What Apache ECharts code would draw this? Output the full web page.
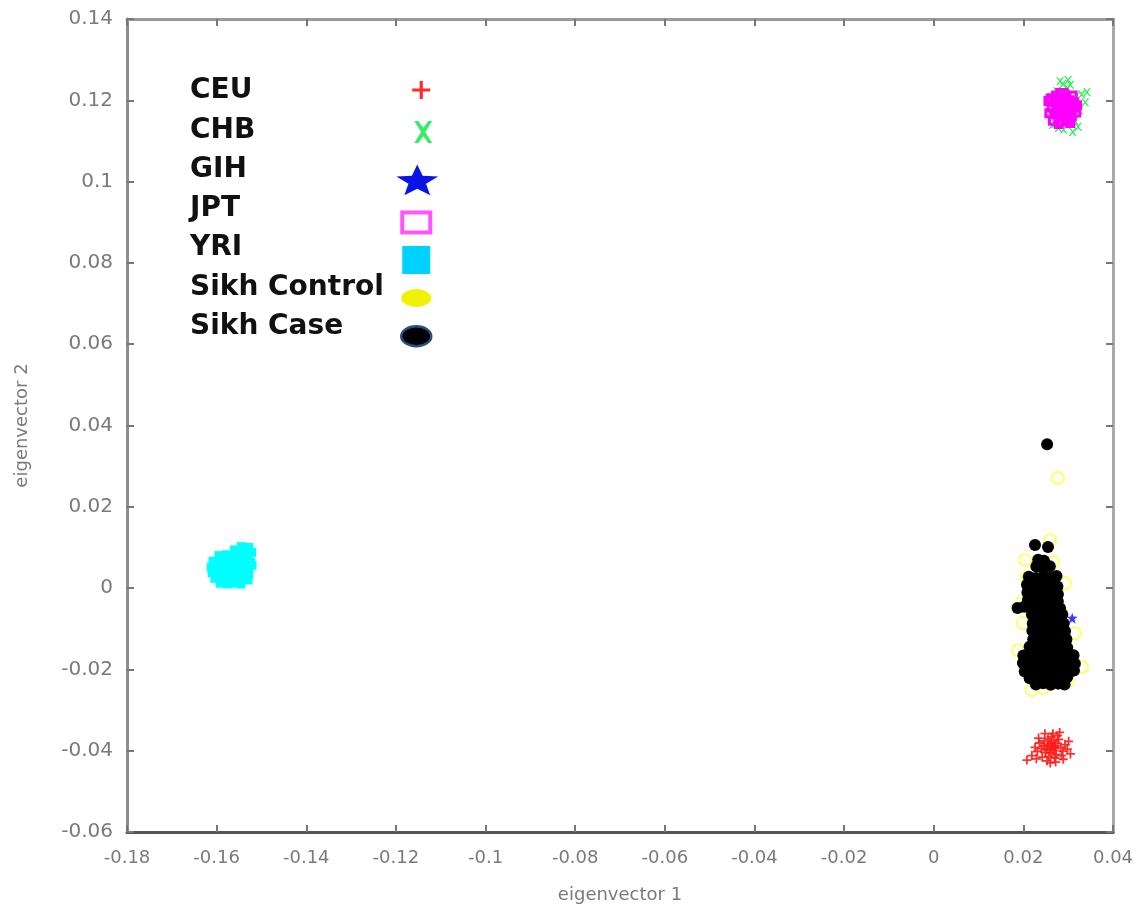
<!DOCTYPE html>
<html><head><meta charset="utf-8">
<script src="https://cdn.jsdelivr.net/npm/echarts@6/dist/echarts.min.js"></script>
<style>html,body{margin:0;padding:0;background:#fff}#c{width:1142px;height:910px}</style>
</head><body><div id="c"></div>
<script>
const X_MIN = -0.18, X_MAX = 0.04, X_STEP = 0.02;
const Y_MIN = -0.06, Y_MAX = 0.14, Y_STEP = 0.02;
const xTickLabels = ['-0.18','-0.16','-0.14','-0.12','-0.1','-0.08','-0.06','-0.04','-0.02','0','0.02','0.04'];
const yTickLabels = ['-0.06','-0.04','-0.02','0','0.02','0.04','0.06','0.08','0.1','0.12','0.14'];
const xAxisName = 'eigenvector 1';
const yAxisName = 'eigenvector 2';
const seriesNames = ['CEU','CHB','GIH','JPT','YRI','Sikh Control','Sikh Case'];

const ceu = [
[0.0264,-0.0390],[0.0258,-0.0384],[0.0270,-0.0395],[0.0252,-0.0398],[0.0276,-0.0382],
[0.0261,-0.0405],[0.0268,-0.0376],[0.0245,-0.0388],[0.0283,-0.0392],[0.0255,-0.0371],
[0.0273,-0.0409],[0.0249,-0.0404],[0.0288,-0.0401],[0.0262,-0.0366],[0.0240,-0.0395],
[0.0279,-0.0372],[0.0257,-0.0414],[0.0293,-0.0385],[0.0236,-0.0381],[0.0270,-0.0418],
[0.0247,-0.0376],[0.0285,-0.0412],[0.0231,-0.0402],[0.0266,-0.0358],[0.0298,-0.0396],
[0.0242,-0.0416],[0.0276,-0.0363],[0.0253,-0.0425],[0.0226,-0.0392],[0.0301,-0.0377],
[0.0289,-0.0421],[0.0234,-0.0369],[0.0260,-0.0430],[0.0219,-0.0412],[0.0208,-0.0423],
[0.0305,-0.0408],[0.0281,-0.0355],[0.0248,-0.0358],[0.0272,-0.0428],[0.0229,-0.0420],
[0.0259,-0.0395],[0.0267,-0.0400],[0.0254,-0.0389],[0.0263,-0.0381],[0.0271,-0.0388]
];
const chb = [
[0.0287,0.1183],[0.0280,0.1195],[0.0295,0.1172],[0.0272,0.1178],[0.0300,0.1190],
[0.0285,0.1205],[0.0290,0.1162],[0.0268,0.1198],[0.0305,0.1180],[0.0277,0.1165],
[0.0293,0.1212],[0.0262,0.1185],[0.0312,0.1198],[0.0283,0.1150],[0.0275,0.1222],
[0.0298,0.1230],[0.0318,0.1210],[0.0270,0.1142],[0.0295,0.1145],[0.0325,0.1175],
[0.0258,0.1170],[0.0330,0.1215],[0.0265,0.1140],[0.0315,0.1150],[0.0288,0.1240],
[0.0305,0.1238],[0.0338,0.1195],[0.0255,0.1205],[0.0322,0.1135],[0.0278,0.1132],
[0.0342,0.1220],[0.0310,0.1122],[0.0282,0.1247],[0.0300,0.1250],[0.0290,0.1128]
];
const gih = [
[0.0309,-0.0074],[0.0250,-0.0100],[0.0240,-0.0150],[0.0262,-0.0050],
[0.0232,-0.0180],[0.0270,-0.0120],[0.0285,-0.0160],[0.0245,-0.0030]
];
const jpt = [
[0.0287,0.1181],[0.0280,0.1188],[0.0294,0.1174],[0.0275,0.1172],[0.0300,0.1190],
[0.0284,0.1200],[0.0291,0.1160],[0.0270,0.1195],[0.0306,0.1178],[0.0278,0.1158],
[0.0296,0.1208],[0.0263,0.1182],[0.0313,0.1195],[0.0286,0.1148],[0.0273,0.1212],
[0.0301,0.1152],[0.0318,0.1170],[0.0258,0.1168],[0.0290,0.1218],[0.0266,0.1150],
[0.0310,0.1212],[0.0320,0.1188],[0.0256,0.1198],[0.0279,0.1142],[0.0305,0.1144],
[0.0282,0.1218],[0.0298,0.1165],[0.0274,0.1185],[0.0292,0.1195],[0.0286,0.1170],
[0.0283,0.1176],[0.0289,0.1190],[0.0278,0.1204],[0.0302,0.1200],[0.0269,0.1165],
[0.0308,0.1160],[0.0296,0.1150],[0.0281,0.1160],[0.0262,0.1205],[0.0315,0.1182]
];
const yri = [
[-0.1545,0.0102],[-0.1528,0.0100],[-0.1560,0.0094],[-0.1536,0.0090],[-0.1522,0.0088],
[-0.1595,0.0080],[-0.1578,0.0082],[-0.1562,0.0078],[-0.1546,0.0080],[-0.1530,0.0076],
[-0.1608,0.0066],[-0.1590,0.0068],[-0.1572,0.0064],[-0.1556,0.0066],[-0.1540,0.0062],[-0.1524,0.0064],
[-0.1612,0.0052],[-0.1596,0.0050],[-0.1580,0.0054],[-0.1564,0.0050],[-0.1548,0.0052],[-0.1530,0.0048],[-0.1521,0.0056],
[-0.1610,0.0038],[-0.1594,0.0036],[-0.1578,0.0040],[-0.1562,0.0036],[-0.1546,0.0038],[-0.1528,0.0034],
[-0.1604,0.0024],[-0.1588,0.0022],[-0.1572,0.0026],[-0.1556,0.0022],[-0.1540,0.0024],[-0.1530,0.0020],
[-0.1592,0.0012],[-0.1576,0.0010],[-0.1560,0.0012],[-0.1546,0.0010]
];
const sikhControl = [
[0.0277,0.0271],[0.0260,0.0118],[0.0204,0.0069],[0.0266,0.0064],[0.0208,0.0027],[0.0293,0.0012],
[0.0197,-0.0034],[0.0199,-0.0086],[0.0315,-0.0111],[0.0331,-0.0194],[0.0219,-0.0251],[0.0244,-0.0246],
[0.0188,-0.0153],[0.0300,-0.0230],[0.0250,-0.0080],[0.0235,-0.0150],[0.0270,-0.0020],[0.0260,-0.0190]
];
const sikhCase = [
[0.0253,0.0354],[0.0226,0.0106],[0.0255,0.0101],
[0.0233,0.0070],[0.0246,0.0067],
[0.0229,0.0053],[0.0244,0.0050],[0.0259,0.0054],
[0.0212,0.0028],[0.0228,0.0025],[0.0245,0.0029],[0.0262,0.0026],[0.0274,0.0030],
[0.0208,0.0008],[0.0224,0.0005],[0.0241,0.0009],[0.0258,0.0006],[0.0276,0.0004],
[0.0209,-0.0011],[0.0226,-0.0014],[0.0243,-0.0010],[0.0260,-0.0013],[0.0277,-0.0015],
[0.0210,-0.0029],[0.0227,-0.0032],[0.0244,-0.0028],[0.0261,-0.0031],[0.0277,-0.0033],
[0.0187,-0.0049],[0.0202,-0.0046],[0.0218,-0.0048],[0.0236,-0.0045],[0.0254,-0.0049],[0.0271,-0.0046],[0.0282,-0.0050],
[0.0219,-0.0065],[0.0236,-0.0068],[0.0253,-0.0064],[0.0270,-0.0067],[0.0287,-0.0065],
[0.0221,-0.0087],[0.0238,-0.0084],[0.0255,-0.0088],[0.0272,-0.0085],[0.0290,-0.0087],
[0.0220,-0.0105],[0.0237,-0.0108],[0.0254,-0.0104],[0.0271,-0.0107],[0.0293,-0.0106],
[0.0222,-0.0126],[0.0239,-0.0123],[0.0256,-0.0127],[0.0273,-0.0124],[0.0296,-0.0126],
[0.0214,-0.0144],[0.0231,-0.0147],[0.0248,-0.0143],[0.0265,-0.0146],[0.0282,-0.0144],[0.0298,-0.0147],
[0.0200,-0.0166],[0.0216,-0.0163],[0.0233,-0.0167],[0.0250,-0.0164],[0.0267,-0.0166],[0.0284,-0.0163],[0.0301,-0.0167],[0.0312,-0.0165],
[0.0199,-0.0184],[0.0215,-0.0187],[0.0232,-0.0183],[0.0249,-0.0186],[0.0266,-0.0184],[0.0283,-0.0187],[0.0300,-0.0183],[0.0315,-0.0186],
[0.0203,-0.0205],[0.0219,-0.0202],[0.0236,-0.0206],[0.0253,-0.0203],[0.0270,-0.0205],[0.0287,-0.0202],[0.0304,-0.0206],[0.0313,-0.0203],
[0.0214,-0.0222],[0.0230,-0.0219],[0.0247,-0.0223],[0.0264,-0.0220],[0.0281,-0.0222],[0.0298,-0.0219],
[0.0228,-0.0237],[0.0244,-0.0234],[0.0261,-0.0238],[0.0278,-0.0235],[0.0292,-0.0237]
];

// marker shapes
const PLUS = 'path://M4 0 H6 V4 H10 V6 H6 V10 H4 V6 H0 V4 H4 Z';
const CROSS = 'path://M0 0 L2 0 L5 3.5 L8 0 L10 0 L6 5 L10 10 L8 10 L5 6.5 L2 10 L0 10 L4 5 Z';
const STAR = 'path://M5 0 L6.2 3.4 L10 3.5 L7 5.7 L8.1 9.5 L5 7.3 L1.9 9.5 L3 5.7 L0 3.5 L3.8 3.4 Z';
const RING = 'path://M0 0 H10 V10 H0 Z M3 3 V7 H7 V3 Z';

// legend icons drawn inside a 50x50 frame (the two move-to points fix the frame)
const F = 'path://M0 0 M50 50 ';
const legendIcons = {
  'CEU': F + 'M27.4 16 H30.6 V23.4 H38 V26.6 H30.6 V34 H27.4 V26.6 H20 V23.4 H27.4 Z',
  'CHB': F + 'M22 15.2 L26 15.2 L31 22 L36 15.2 L40 15.2 L33 26.2 L40 37.2 L36 37.2 L31 30.4 L26 37.2 L22 37.2 L29 26.2 Z',
  'GIH': F + 'M25 18 L30.4 29.2 L45.9 29.8 L33.8 37.2 L37.9 48.7 L25 42.1 L12.1 48.7 L16.2 37.2 L4.1 29.8 L19.6 29.2 Z',
  'JPT': F + 'M8 23.1 H40 V47.1 H8 Z M12 27.1 V43.1 H36 V27.1 Z',
  'YRI': F + 'M10 17.8 H38 V45.8 H10 Z',
  'Sikh Control': F + 'M9 29 A15 9 0 1 0 39 29 A15 9 0 1 0 9 29 Z',
  'Sikh Case': F + 'M9 25.2 A15 10 0 1 0 39 25.2 A15 10 0 1 0 9 25.2 Z'
};
const legendColors = {
  'CEU': {color:'#ff2a2a', opacity: 1},
  'CHB': {color:'#33ee66', opacity: 1},
  'GIH': {color:'#0a14e6', opacity: 1},
  'JPT': {color:'#ff55ff', opacity: 1},
  'YRI': {color:'#00d2ff', opacity: 1},
  'Sikh Control': {color:'#f2f200', borderWidth:0, opacity: 1},
  'Sikh Case': {color:'#000000', borderColor:'#2b4d86', borderWidth:2.5, opacity: 1}
};

const chart = echarts.init(document.getElementById('c'));
const labelFont = 'DejaVu Sans';
const tickLabelX = v => xTickLabels[Math.round((v - X_MIN) / X_STEP)];
const tickLabelY = v => yTickLabels[Math.round((v - Y_MIN) / Y_STEP)];

const baseX = {
  type: 'value', min: X_MIN, max: X_MAX, interval: X_STEP,
  splitLine: {show: false},
  axisTick: {show: true, inside: true, length: 7, lineStyle: {color: '#777', width: 2}}
};
const baseY = {
  type: 'value', min: Y_MIN, max: Y_MAX, interval: Y_STEP,
  splitLine: {show: false},
  axisTick: {show: true, inside: true, length: 7, lineStyle: {color: '#777', width: 2}}
};

chart.setOption({
  animation: false,
  backgroundColor: '#ffffff',
  grid: {left: 127, right: 29, top: 19, bottom: 78, containLabel: false},
  xAxis: [
    Object.assign({}, baseX, {
      position: 'bottom',
      name: xAxisName, nameLocation: 'middle', nameGap: 54,
      nameTextStyle: {fontFamily: labelFont, fontSize: 18, color: '#7a7a7a'},
      axisLine: {show: true, onZero: false, lineStyle: {color: '#555', width: 3}},
      axisLabel: {formatter: tickLabelX, margin: 17, fontFamily: labelFont, fontSize: 18, color: '#7a7a7a'}
    }),
    Object.assign({}, baseX, {
      position: 'top',
      axisLine: {show: true, onZero: false, lineStyle: {color: '#9a9a9a', width: 3}},
      axisLabel: {show: false}
    })
  ],
  yAxis: [
    Object.assign({}, baseY, {
      position: 'left',
      name: yAxisName, nameLocation: 'middle', nameGap: 96,
      nameTextStyle: {fontFamily: labelFont, fontSize: 18, color: '#7a7a7a'},
      axisLine: {show: true, onZero: false, lineStyle: {color: '#8e8e8e', width: 3}},
      axisLabel: {formatter: tickLabelY, margin: 14, fontFamily: labelFont, fontSize: 20, color: '#7a7a7a'}
    }),
    Object.assign({}, baseY, {
      position: 'right',
      axisLine: {show: true, onZero: false, lineStyle: {color: '#aaaaaa', width: 3}},
      axisLabel: {show: false}
    })
  ],
  legend: [
    {
      // legend names
      orient: 'vertical', left: 185, top: 74, padding: 0,
      itemWidth: 0, itemHeight: 14, itemGap: 5.3,
      selectedMode: false,
      icon: 'rect',
      itemStyle: {opacity: 0, borderWidth: 0},
      textStyle: {fontFamily: labelFont, fontWeight: 'bold', fontSize: 28, lineHeight: 34, color: '#111'},
      data: seriesNames.slice()
    },
    {
      // legend symbols
      orient: 'vertical', left: 391, top: 65, padding: 0,
      itemWidth: 50, itemHeight: 50, itemGap: -9.2,
      selectedMode: false,
      formatter: () => '',
      textStyle: {fontSize: 1},
      data: seriesNames.map(n => ({name: n, icon: legendIcons[n], itemStyle: legendColors[n]}))
    }
  ],
  series: [
    {name: 'CEU', type: 'scatter', data: ceu, symbol: PLUS, symbolSize: 9,
     itemStyle: {color: '#ff1a1a', opacity: 0.9}},
    {name: 'CHB', type: 'scatter', data: chb, symbol: CROSS, symbolSize: 8,
     itemStyle: {color: '#33ee55', opacity: 1}},
    {name: 'GIH', type: 'scatter', data: gih, symbol: STAR, symbolSize: 11,
     itemStyle: {color: '#3a3aff', opacity: 1}},
    {name: 'JPT', type: 'scatter', data: jpt, symbol: RING, symbolSize: 10,
     itemStyle: {color: '#ff00ff', opacity: 1}},
    {name: 'YRI', type: 'scatter', data: yri, symbol: 'rect', symbolSize: 9,
     itemStyle: {color: '#00ffff', opacity: 1}},
    {name: 'Sikh Control', type: 'scatter', data: sikhControl, symbol: 'circle', symbolSize: 12,
     itemStyle: {color: 'rgba(255,255,255,0)', borderColor: '#ffff66', borderWidth: 2, opacity: 1}},
    {name: 'Sikh Case', type: 'scatter', data: sikhCase, symbol: 'circle', symbolSize: 12,
     itemStyle: {color: '#000000', opacity: 1}}
  ]
});
</script>
</body></html>
